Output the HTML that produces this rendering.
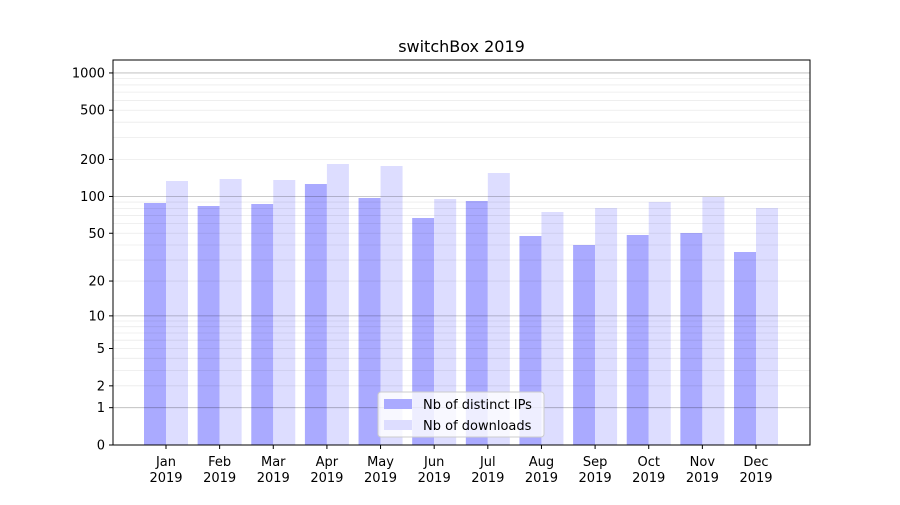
<!DOCTYPE html>
<html><head><meta charset="utf-8"><style>
html,body{margin:0;padding:0;background:#fff;}
svg text{font-family:"DejaVu Sans","Liberation Sans",sans-serif;fill:#000;}
</style></head><body>
<svg id="s" width="900" height="500" xmlns="http://www.w3.org/2000/svg">
<rect width="900" height="500" fill="#fff"/>
<g id="bars"></g>
<g id="grid"></g>
<g id="axes"></g>
<text x="461.5" y="52" font-size="16" text-anchor="middle">switchBox 2019</text>
<g transform="translate(378,392)">
<rect x="0" y="0" width="166" height="45" rx="3" fill="#fff" fill-opacity="0.8" stroke="#ccc"/>
<rect x="6" y="7" width="28" height="10" fill="#aaaaff"/>
<text x="45" y="17" font-size="13">Nb of distinct IPs</text>
<rect x="6" y="28" width="28" height="10" fill="#ddddff"/>
<text x="45" y="38" font-size="13">Nb of downloads</text>
</g>
</svg>
<script>
const NS="http://www.w3.org/2000/svg";
function el(p,t,a,txt){const e=document.createElementNS(NS,t);for(const k in a)e.setAttribute(k,a[k]);if(txt!==undefined)e.textContent=txt;document.getElementById(p).appendChild(e);}
const L=113,R=810,T=60,B=445,K=124;
const Y=v=>B-K*Math.log10(1+v);
[[2,9,1],[20,90,10],[200,900,100]].forEach(([a,b,s])=>{for(let v=a;v<=b;v+=s)el("grid","line",{x1:L,x2:R,y1:Y(v),y2:Y(v),stroke:"#000","stroke-opacity":0.08,"stroke-width":0.8});});
[1,10,100,1000].forEach(v=>el("grid","line",{x1:L,x2:R,y1:Y(v),y2:Y(v),stroke:"#000","stroke-opacity":0.28,"stroke-width":0.8}));
const tops=[[203,181],[206,179],[204,180],[184,164],[198,166],[218,199],[201,173],[236,212],[245,208],[235,202],[233,197],[252,208]];
const m=["Jan","Feb","Mar","Apr","May","Jun","Jul","Aug","Sep","Oct","Nov","Dec"];
for(let i=0;i<12;i++){const c=166+i*(756-166)/11;
el("bars","rect",{x:c-22,y:tops[i][0],width:22,height:B-tops[i][0],fill:"#aaaaff"});
el("bars","rect",{x:c,y:tops[i][1],width:22,height:B-tops[i][1],fill:"#ddddff"});
el("axes","line",{x1:c,x2:c,y1:B,y2:B+4,stroke:"#000"});
el("axes","text",{x:c,y:466,"font-size":13,"text-anchor":"middle"},m[i]);
el("axes","text",{x:c,y:482,"font-size":13,"text-anchor":"middle"},"2019");}
[0,1,2,5,10,20,50,100,200,500,1000].forEach(v=>{const y=Y(v);
el("axes","line",{x1:L-4,x2:L,y1:y,y2:y,stroke:"#000"});
el("axes","text",{x:L-8,y:y+4.5,"font-size":13,"text-anchor":"end"},String(v));});
el("axes","rect",{x:L,y:T,width:R-L,height:B-T,fill:"none",stroke:"#000","stroke-width":1});
</script>
</body></html>
